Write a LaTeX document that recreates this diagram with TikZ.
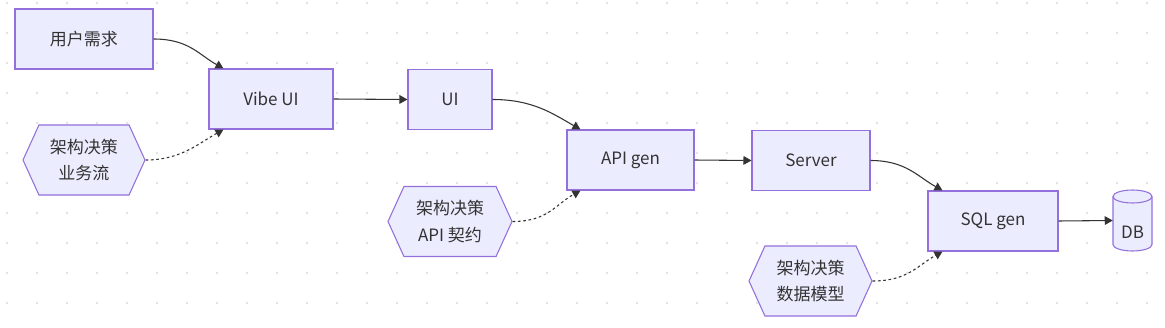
\documentclass[tikz,border=0pt]{standalone}
\usepackage{fontspec}
\setmainfont{Noto Sans CJK SC}
\usetikzlibrary{arrows.meta,shapes.symbols}
\definecolor{nodefill}{HTML}{ECECFF}
\definecolor{nodeline}{HTML}{9370DB}
\definecolor{ink}{HTML}{333333}
\definecolor{griddot}{HTML}{E2E2E2}
\begin{document}
\begin{tikzpicture}[x=0.75pt,y=-0.75pt,
  boxbase/.style={draw=nodeline,fill=nodefill,line width=0.8pt,text=ink,
    font=\fontsize{12.75}{20}\selectfont,inner sep=0pt,align=center},
  rectnode/.style={boxbase,rectangle,minimum height=45pt},
  hexnode/.style={boxbase,signal,signal to=west and east,signal pointer angle=131,
    minimum width=91.5pt,minimum height=52.5pt},
  edge/.style={draw=ink,line width=0.8pt,-{Triangle[length=6pt,width=6.5pt]}},
  dotedge/.style={edge,dash pattern=on 2pt off 2pt},
  cyl/.style={draw=nodeline,fill=nodefill,line width=0.8pt}]
\useasboundingbox (0,0) rectangle (1165,328);
\fill[white] (0,0) rectangle (1165,328);
\foreach \i in {0,...,38}{\foreach \j in {0,...,10}{\fill[griddot] (7+30*\i,3+30*\j) circle[radius=1.1pt];}}
% nodes
\node[rectnode,minimum width=103.5pt] (req) at (84,39) {用户需求};
\node[rectnode,minimum width=93pt] (vibe) at (271,99) {Vibe UI};
\node[hexnode] (h1) at (84,160) {架构决策\\业务流};
\node[rectnode,minimum width=63pt] (ui) at (450,99.5) {UI};
\node[rectnode,minimum width=95.25pt] (api) at (630.5,160) {API gen};
\node[hexnode,minimum width=93pt] (h2) at (450,221.5) {架构决策\\API 契约};
\node[rectnode,minimum width=88.5pt] (srv) at (811,160.5) {Server};
\node[rectnode,minimum width=97.5pt] (sql) at (993,221) {SQL gen};
\node[hexnode,minimum width=92.25pt] (h3) at (810.5,281) {架构决策\\数据模型};
% database cylinder
\filldraw[cyl] (1113,196.5) -- (1113,244.5) arc[start angle=180,end angle=360,x radius=14.625pt,y radius=4.875pt]
  -- (1152,196.5) arc[start angle=0,end angle=180,x radius=14.625pt,y radius=4.875pt] -- cycle;
\draw[cyl,fill=none] (1113,196.5) arc[start angle=180,end angle=360,x radius=14.625pt,y radius=4.875pt];
\node[inner sep=0pt,minimum width=29.25pt,minimum height=45.75pt] (db) at (1132.5,220.5) {};
\node[text=ink,font=\fontsize{12.75}{20}\selectfont,inner sep=0pt] (dbtext) at (1132.5,232) {DB};
% edges
\draw[edge] (req.east) .. controls +(35,0) and +(-25,-14) .. ([xshift=11.25pt]vibe.north west);
\draw[dotedge] (h1.east) .. controls +(35,0) and +(-25,14) .. ([xshift=11.25pt]vibe.south west);
\draw[edge] (vibe.east) -- (ui.west);
\draw[edge] (ui.east) .. controls +(40,0) and +(-28,-16) .. ([xshift=10.5pt]api.north west);
\draw[dotedge] (h2.east) .. controls +(35,0) and +(-25,14) .. ([xshift=10.5pt]api.south west);
\draw[edge] (api.east) -- (srv.west);
\draw[edge] (srv.east) .. controls +(35,0) and +(-25,-14) .. ([xshift=11.25pt]sql.north west);
\draw[dotedge] (h3.east) .. controls +(35,0) and +(-25,14) .. ([xshift=11.25pt]sql.south west);
\draw[edge] (sql.east) -- (db.west);
\end{tikzpicture}
\end{document}
